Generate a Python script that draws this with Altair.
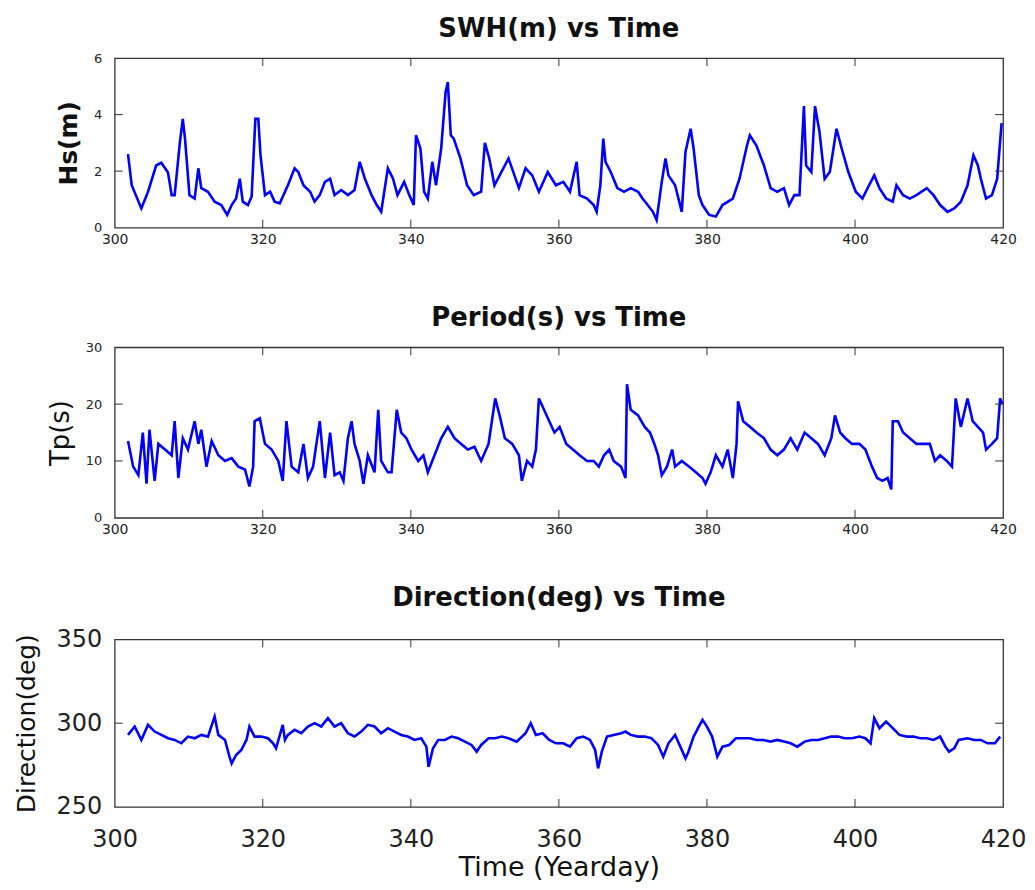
import altair as alt
import pandas as pd

# ---------------- data ----------------
hs_t = [301.8, 302.3, 303.6, 304.5, 305.6, 306.3, 307.2, 307.7, 308.1, 308.8,
        309.2, 309.5, 310.1, 310.8, 311.3, 311.7, 312.6, 313.5, 314.4, 315.2,
        315.8, 316.4, 316.9, 317.3, 318.0, 318.5, 319.0, 319.4, 319.7, 320.3,
        321.0, 321.6, 322.3, 323.4, 324.3, 324.8, 325.5, 326.4, 327.0, 327.7,
        328.4, 329.1, 329.7, 330.6, 331.5, 332.4, 333.1, 333.8, 334.7, 335.4,
        336.0, 336.9, 337.6, 338.2, 339.1, 339.8, 340.4, 340.7, 341.3, 341.8,
        342.3, 342.9, 343.4, 344.1, 344.7, 345.0, 345.4, 345.8, 346.7, 347.6,
        348.5, 349.5, 350.0, 350.6, 351.3, 352.3, 353.2, 354.6, 355.5, 356.4,
        357.3, 358.5, 359.6, 360.6, 361.5, 362.4, 362.8, 363.8, 364.7, 365.1,
        365.6, 366.0, 366.3, 367.0, 367.9, 368.8, 369.7, 370.7, 371.3, 372.0,
        372.7, 373.2, 373.9, 374.4, 374.8, 375.7, 376.6, 377.1, 377.8, 378.2,
        378.9, 379.4, 380.3, 381.2, 382.1, 383.5, 384.4, 385.4, 385.8, 386.7,
        387.7, 388.6, 389.5, 390.4, 391.1, 391.8, 392.5, 393.1, 393.4, 394.1,
        394.6, 395.2, 395.9, 396.6, 397.5, 398.2, 399.1, 400.1, 401.0, 401.9,
        402.6, 403.3, 404.2, 405.1, 405.6, 406.5, 407.4, 408.3, 409.7, 410.6,
        411.5, 412.5, 413.4, 414.3, 415.2, 416.0, 416.6, 417.0, 417.7, 418.5,
        419.2, 419.8]
hs_v = [2.6, 1.5, 0.68, 1.27, 2.2, 2.3, 1.95, 1.15, 1.15, 3.0,
        3.85, 3.15, 1.15, 1.03, 2.1, 1.4, 1.27, 0.92, 0.8, 0.45,
        0.8, 1.03, 1.73, 0.92, 0.8, 1.1, 3.85, 3.85, 2.56, 1.15,
        1.27, 0.92, 0.86, 1.5, 2.1, 1.97, 1.5, 1.27, 0.92, 1.15,
        1.62, 1.73, 1.15, 1.33, 1.15, 1.33, 2.33, 1.73, 1.15, 0.8,
        0.56, 2.1, 1.73, 1.15, 1.62, 1.15, 0.8, 3.27, 2.8, 1.27,
        1.03, 2.33, 1.5, 2.8, 4.8, 5.15, 3.27, 3.15, 2.45, 1.5,
        1.15, 1.27, 3.0, 2.45, 1.5, 2.0, 2.45, 1.4, 2.1, 1.85,
        1.27, 1.97, 1.5, 1.62, 1.27, 2.33, 1.15, 1.03, 0.8, 0.56,
        1.5, 3.15, 2.33, 1.97, 1.4, 1.27, 1.4, 1.27, 1.03, 0.8,
        0.56, 0.27, 1.62, 2.45, 1.85, 1.5, 0.56, 2.68, 3.5, 2.8,
        1.15, 0.8, 0.45, 0.39, 0.8, 1.03, 1.73, 2.9, 3.27, 2.9,
        2.2, 1.4, 1.27, 1.4, 0.8, 1.15, 1.15, 4.3, 2.2, 1.97,
        4.3, 3.4, 1.73, 1.97, 3.5, 2.8, 1.97, 1.27, 1.03, 1.5,
        1.85, 1.4, 1.03, 0.92, 1.5, 1.15, 1.03, 1.15, 1.4, 1.15,
        0.8, 0.56, 0.68, 0.92, 1.5, 2.56, 2.2, 1.73, 1.03, 1.15,
        1.73, 3.7]

tp_t = [301.8, 302.5, 303.2, 303.8, 304.3, 304.7, 305.4, 305.9, 306.8, 307.7,
        308.1, 308.6, 309.2, 309.9, 310.8, 311.3, 311.7, 312.4, 313.1, 314.0,
        314.9, 315.8, 316.7, 317.6, 318.2, 318.7, 318.9, 319.6, 320.3, 321.2,
        322.1, 322.7, 323.2, 323.9, 324.8, 325.5, 326.1, 326.8, 327.7, 328.4,
        329.1, 329.7, 330.4, 330.9, 331.5, 332.0, 332.4, 333.1, 333.6, 334.2,
        335.1, 335.6, 336.0, 336.9, 337.4, 338.1, 338.7, 339.4, 340.1, 341.0,
        341.7, 342.3, 343.2, 344.1, 345.0, 345.9, 346.8, 347.7, 348.6, 349.5,
        350.5, 351.4, 352.0, 352.7, 353.7, 354.6, 355.0, 355.7, 356.4, 356.9,
        357.3, 358.0, 358.7, 359.4, 360.1, 361.0, 361.9, 362.8, 363.8, 364.7,
        365.4, 366.1, 366.8, 367.4, 368.4, 369.0, 369.2, 369.7, 370.7, 371.6,
        372.3, 372.9, 373.4, 373.9, 374.6, 375.3, 375.7, 376.6, 377.6, 378.5,
        379.4, 379.8, 380.5, 381.2, 382.1, 382.8, 383.5, 384.0, 384.2, 384.9,
        385.8, 386.7, 387.7, 388.6, 389.5, 390.4, 391.3, 392.2, 393.2, 394.1,
        395.0, 395.9, 396.8, 397.3, 398.0, 398.7, 399.6, 400.6, 401.4, 402.3,
        403.0, 403.7, 404.4, 404.9, 405.1, 405.8, 406.5, 407.4, 408.3, 409.2,
        410.1, 410.8, 411.5, 412.4, 413.1, 413.6, 414.3, 415.2, 415.9, 416.6,
        417.3, 417.7, 418.5, 419.2, 419.6, 419.9]
tp_v = [13.5, 9, 7.5, 15, 6, 15.5, 6.5, 13, 12, 11,
        17, 7, 14, 12, 17, 13, 15.5, 9, 13.5, 11,
        10, 10.5, 9, 8.5, 5.5, 9, 17, 17.5, 13, 12,
        10, 6.5, 17, 9, 8, 13, 7, 9, 17, 7,
        15, 7.5, 8, 6.5, 14, 17, 13, 10, 6, 11,
        8, 19, 10, 8, 8, 19, 15, 14, 12, 10,
        11, 8, 11, 14, 16, 14, 13, 12, 12.5, 10,
        13, 21, 18, 14, 13, 11, 6.5, 10, 9, 12,
        21, 19, 17, 15, 16, 13, 12, 11, 10, 10,
        9, 11, 12, 10, 9, 7, 23.5, 19, 18, 16,
        15, 13, 11, 7.5, 9, 12, 9, 10, 9, 8,
        7, 6, 8, 11, 9, 12, 7, 13, 20.5, 17,
        16, 15, 14, 12, 11, 12, 14, 12, 15, 14,
        13, 11, 14, 18, 15, 14, 13, 13, 12, 9,
        7, 6.5, 7, 5, 17, 17, 15, 14, 13, 13,
        13, 10, 11, 10, 9, 21, 16, 21, 17, 16,
        15, 12, 13, 14, 21, 20]

dir_t = [301.8, 302.7, 303.6, 304.5, 305.4, 306.3, 307.2, 308.1, 309.0, 309.9,
         310.8, 311.7, 312.6, 313.5, 314.0, 314.9, 315.5, 315.8, 316.4, 317.1,
         317.8, 318.2, 318.9, 319.8, 320.7, 321.4, 321.8, 322.7, 323.0, 323.4,
         324.3, 325.2, 326.1, 327.0, 327.9, 328.8, 329.7, 330.6, 331.5, 332.4,
         333.3, 334.2, 335.1, 336.0, 336.9, 337.8, 338.7, 339.6, 340.5, 341.4,
         342.1, 342.4, 343.0, 343.7, 344.6, 345.5, 346.4, 347.3, 348.2, 348.9,
         349.5, 350.5, 351.4, 352.3, 353.2, 354.3, 355.5, 356.2, 356.9, 357.8,
         358.7, 359.6, 360.6, 361.5, 362.4, 363.3, 364.2, 364.9, 365.3, 365.8,
         366.5, 367.4, 368.4, 369.0, 369.7, 370.7, 371.6, 372.5, 373.4, 374.1,
         374.8, 375.7, 376.4, 377.1, 377.5, 378.2, 378.9, 379.4, 380.0, 380.7,
         381.4, 382.1, 383.0, 383.9, 384.8, 385.8, 386.7, 387.6, 388.6, 389.5,
         390.4, 391.3, 392.2, 393.2, 394.1, 395.0, 395.9, 396.8, 397.7, 398.6,
         399.6, 400.6, 401.4, 402.1, 402.6, 403.3, 404.2, 405.1, 406.0, 407.0,
         407.9, 408.8, 409.7, 410.6, 411.5, 412.2, 412.7, 413.4, 414.0, 415.2,
         416.1, 417.0, 417.9, 418.9, 419.6]
dir_v = [293, 298, 290, 299, 295, 293, 291, 290, 288, 292,
         291, 293, 292, 304, 293, 290, 280, 276, 281, 284,
         290, 298, 292, 292, 291, 288, 285, 299, 290, 293,
         296, 294, 298, 300, 298, 303, 298, 300, 294, 292,
         295, 299, 298, 294, 297, 295, 293, 292, 290, 291,
         286, 274, 285, 290, 290, 292, 291, 289, 287, 283,
         287, 291, 291, 292, 291, 289, 294, 300, 293, 294,
         290, 288, 288, 286, 291, 292, 290, 284, 273, 283,
         292, 293, 294, 295, 293, 292, 292, 291, 287, 280,
         288, 293, 286, 279, 283, 292, 298, 302, 298, 292,
         280, 286, 287, 291, 291, 291, 290, 290, 289, 290,
         289, 288, 286, 289, 290, 290, 291, 292, 292, 291,
         291, 292, 291, 288, 303, 297, 301, 297, 293, 292,
         292, 291, 291, 290, 292, 286, 283, 285, 290, 291,
         290, 290, 288, 288, 292]

x_labels = [300, 320, 340, 360, 380, 400, 420]
x_inner = [320, 340, 360, 380, 400]

W = 891
FONT = "DejaVu Sans"
TICK = 8


def panel(t, v, title, ytitle, ydom, ylabels, yinner, h,
          small=True, xtitle=None, ybold=False, ytitle_size=25, ytitle_pad=12,
          title_offset=10):
    df = pd.DataFrame({"t": t, "v": v})
    xsc = alt.Scale(domain=[300, 420], nice=False, zero=False)
    ysc = alt.Scale(domain=ydom, nice=False, zero=False)
    lab = 13 if small else 24
    xaxis = alt.Axis(values=x_labels, ticks=False, domain=False, grid=False,
                     labelFontSize=14 if small else 24,
                     labelPadding=5 if small else 21,
                     labelColor="#222", format="d", labelFlush=False,
                     title=xtitle, titleFontSize=27, titleFontWeight="normal",
                     titlePadding=3, titleColor="#111")
    yaxis = alt.Axis(values=ylabels, ticks=False, domain=False, grid=False,
                     labelFontSize=lab, labelPadding=13, labelColor="#222",
                     format="d", labelFlush=False,
                     title=ytitle, titleFontSize=ytitle_size,
                     titleFontWeight="bold" if ybold else "normal",
                     titlePadding=ytitle_pad, titleColor="#111",
                     titleLimit=1000)
    line = alt.Chart(df).mark_line(color="#0000ff", strokeWidth=2.6).encode(
        x=alt.X("t:Q", scale=xsc, axis=xaxis),
        y=alt.Y("v:Q", scale=ysc, axis=yaxis),
    )
    xt = pd.DataFrame({"t": x_inner})
    yt = pd.DataFrame({"v": yinner})
    top = alt.Chart(xt).mark_rule(color="#333").encode(
        x="t:Q", y=alt.value(0), y2=alt.value(TICK))
    bot = alt.Chart(xt).mark_rule(color="#333").encode(
        x="t:Q", y=alt.value(h), y2=alt.value(h - TICK))
    left = alt.Chart(yt).mark_rule(color="#333").encode(
        y="v:Q", x=alt.value(0), x2=alt.value(TICK))
    right = alt.Chart(yt).mark_rule(color="#333").encode(
        y="v:Q", x=alt.value(W), x2=alt.value(W - TICK))
    return alt.layer(line, top, bot, left, right).properties(
        width=W, height=h,
        title=alt.TitleParams(text=title, fontSize=26, font=FONT,
                              fontWeight="bold", anchor="middle",
                              offset=title_offset, color="#111"),
    )


p1 = panel(hs_t, hs_v, "SWH(m) vs Time", "Hs(m)", [0, 6], [0, 2, 4, 6], [2, 4],
           170, ybold=True, ytitle_size=25, ytitle_pad=12)
p2 = panel(tp_t, tp_v, "Period(s) vs Time", "Tp(s)", [0, 30], [0, 10, 20, 30],
           [10, 20], 171, ytitle_size=26, ytitle_pad=12)
p3 = panel(dir_t, dir_v, "Direction(deg) vs Time", "Direction(deg)", [250, 350],
           [250, 300, 350], [300], 168, small=False, xtitle="Time (Yearday)",
           ytitle_size=25, ytitle_pad=17, title_offset=17)

top_pair = alt.vconcat(p1, p2, spacing=57)
chart = alt.vconcat(top_pair, p3, spacing=46).properties(
    padding={"left": 5, "top": 6, "right": 0, "bottom": 0}
).configure(
    font=FONT
).configure_view(stroke="#333", strokeWidth=1.3).configure_axis(
    labelFont=FONT, titleFont=FONT
)

chart.save("out.html", embed_options={"renderer": "svg", "actions": False})
